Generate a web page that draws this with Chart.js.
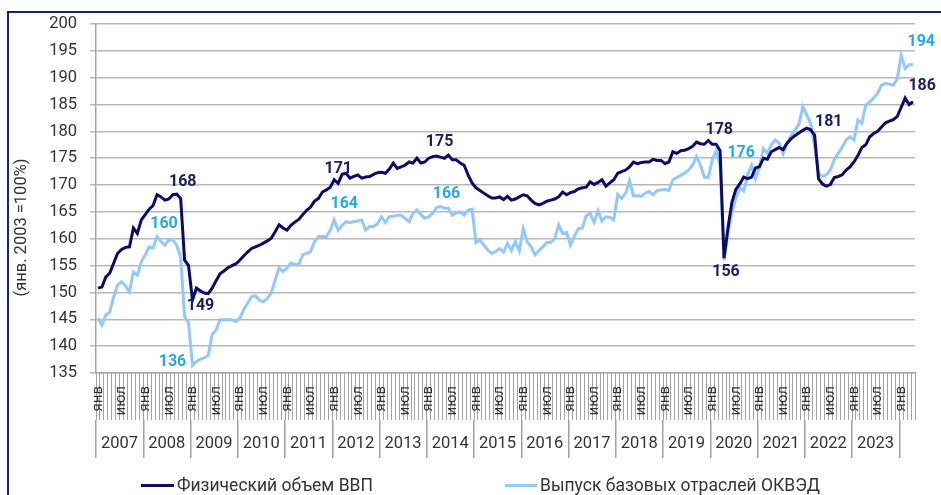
<!DOCTYPE html>
<html>
<head>
<meta charset="utf-8">
<script src="https://cdn.jsdelivr.net/npm/chart.js@4.4.1/dist/chart.umd.min.js"></script>
<style>
  html, body { margin: 0; padding: 0; background: #fff; }
  #wrap { position: relative; width: 941px; height: 495px; overflow: hidden; font-family: Roboto, sans-serif; }
  #frame { position: absolute; left: 7px; top: 11px; right: -10px; bottom: -10px;
           border-top: 2px solid #13296b; border-left: 2px solid #13296b; }
  #chart { position: absolute; left: 0; top: 0; }
  .legend-item { position: absolute; top: 475px; font-size: 17.5px; color: #333; white-space: nowrap; line-height: 21px; }
  .swatch { position: absolute; top: 9px; height: 3px; }
</style>
</head>
<body>
<div id="wrap">
  <div id="frame"></div>
  <canvas id="chart" width="941" height="495"></canvas>
  <div class="legend-item" id="leg0" style="left:141px; padding-left:36px;"><span class="swatch" style="left:0; width:33px; background:#0c0c66;"></span><span class="txt"></span></div>
  <div class="legend-item" id="leg1" style="left:505px; padding-left:35px;"><span class="swatch" style="left:0; width:32px; background:#93c8fa;"></span><span class="txt"></span></div>
</div>
<script>
// categories: months from Jan 2007 to Apr 2024
const firstYear = 2007;
const monthCount = 208;
const monthTickLabels = { 0: 'янв', 6: 'июл' };
const seriesNames = ['Физический объем ВВП', 'Выпуск базовых отраслей ОКВЭД'];
const yTitle = '(янв. 2003 =100%)';

const gdpVolume = [
  150.8, 151.0, 152.9, 153.6, 155.5, 157.3, 158.0, 158.4, 158.5, 162.0, 161.0, 163.5,
  164.5, 165.5, 166.2, 168.2, 167.8, 167.2, 167.4, 168.2, 168.3, 167.5, 156.0, 155.0,
  148.6, 150.8, 150.3, 149.9, 149.8, 150.8, 152.2, 153.5, 154.0, 154.6, 155.0, 155.3,
  156.0, 156.8, 157.5, 158.2, 158.5, 158.8, 159.2, 159.6, 160.1, 161.3, 162.6, 162.0,
  161.6, 162.5, 163.1, 163.6, 164.5, 165.3, 165.9, 167.0, 167.5, 168.7, 169.1, 169.6,
  171.0, 170.3, 172.0, 172.2, 171.3, 171.6, 171.9, 171.3, 171.5, 171.6, 172.0, 172.3,
  172.4, 172.2, 173.0, 174.1, 173.1, 173.4, 173.7, 174.3, 174.1, 175.0, 174.1, 174.3,
  175.0, 175.3, 175.4, 175.2, 175.0, 175.6, 174.7, 174.7, 174.1, 173.7, 171.9, 170.4,
  169.5, 169.0, 168.5, 168.0, 167.6, 167.6, 167.8, 167.3, 167.9, 167.2, 167.4, 167.8,
  168.2, 168.0, 167.2, 166.6, 166.3, 166.6, 167.0, 167.2, 167.4, 167.8, 168.7, 168.2,
  168.6, 168.8, 169.3, 169.5, 169.6, 170.6, 170.1, 170.5, 171.0, 169.8, 170.4, 171.0,
  172.2, 172.5, 172.8, 173.4, 174.3, 174.0, 174.2, 174.3, 174.3, 174.8, 174.6, 174.6,
  174.0, 174.3, 176.2, 175.9, 176.4, 176.5, 176.8, 177.2, 178.0, 177.7, 177.6, 178.3,
  177.6, 177.6, 176.4, 156.4, 162.0, 166.8, 169.2, 170.2, 171.5, 171.2, 171.5, 173.2,
  173.4, 175.0, 174.8, 176.2, 176.6, 177.0, 176.6, 177.8, 178.6, 179.2, 179.7, 180.2,
  180.6, 180.3, 179.3, 171.2, 170.2, 169.8, 170.1, 171.4, 171.6, 171.9, 172.8, 173.4,
  174.3, 175.5, 177.0, 177.5, 179.0, 179.6, 180.0, 180.8, 181.6, 181.9, 182.2, 182.8,
  184.5, 186.2, 185.0, 185.5
];

const baseIndustries = [
  145.2, 143.9, 145.8, 146.4, 149.2, 151.4, 152.0, 151.2, 150.1, 153.8, 153.2, 155.7,
  157.0, 158.5, 158.3, 160.4, 159.5, 158.8, 159.8, 159.8, 158.8, 156.5, 145.5, 144.3,
  136.4, 137.1, 137.6, 137.8, 138.3, 142.2, 143.0, 144.9, 144.9, 144.9, 144.9, 144.6,
  145.2, 146.8, 148.0, 149.2, 149.4, 148.5, 148.3, 148.9, 149.9, 152.3, 154.6, 153.9,
  154.5, 155.5, 155.2, 155.2, 157.0, 157.3, 157.6, 159.5, 160.4, 160.4, 160.4, 161.6,
  163.5, 161.6, 162.5, 163.2, 163.0, 163.2, 163.3, 163.5, 161.6, 162.3, 162.3, 162.8,
  164.1, 163.0, 164.1, 164.2, 164.4, 164.4, 163.8, 163.2, 164.7, 165.4, 164.5, 163.8,
  164.1, 164.7, 165.8, 166.0, 165.7, 165.7, 164.4, 164.8, 165.0, 164.4, 165.3, 165.5,
  159.3, 159.8, 158.8, 157.9, 157.3, 157.6, 158.2, 157.5, 159.1, 157.8, 159.5, 157.7,
  161.9, 159.5, 158.5, 157.0, 157.8, 158.5, 159.3, 159.3, 160.0, 162.6, 161.0, 161.2,
  158.8, 160.5, 161.9, 162.0, 164.3, 164.7, 163.1, 165.2, 163.3, 164.1, 164.0, 163.5,
  168.3, 167.5, 168.5, 170.8, 168.0, 168.0, 167.9, 168.5, 168.8, 168.2, 169.0, 169.1,
  169.2, 169.0, 171.0, 171.4, 171.8, 172.2, 172.8, 173.7, 175.3, 173.7, 171.5, 171.4,
  174.7, 176.4, 173.5, 156.0, 161.0, 165.0, 167.5, 169.5, 168.9, 172.0, 173.7, 171.2,
  173.4, 176.8, 175.9, 177.5, 178.4, 177.8, 175.8, 177.8, 179.2, 180.2, 181.3, 184.6,
  183.1, 181.5, 177.2, 172.2, 171.6, 171.9, 172.8, 174.7, 175.9, 177.1, 178.4, 179.0,
  178.4, 182.1, 181.5, 184.9, 185.5, 186.2, 187.1, 188.6, 188.9, 188.8, 188.6, 189.8,
  194.2, 191.7, 192.4, 192.4
];

// which points carry a value label (series index, month index)
const labelledPoints = [
  { series: 0, index: 19 }, { series: 1, index: 15 }, { series: 0, index: 24 }, { series: 1, index: 24 },
  { series: 0, index: 60 }, { series: 1, index: 60 }, { series: 0, index: 86 }, { series: 1, index: 87 },
  { series: 0, index: 155 }, { series: 1, index: 157 }, { series: 0, index: 159 }, { series: 0, index: 180 },
  { series: 1, index: 204 }, { series: 0, index: 205 }
];
// label offsets from the point, same order as labelledPoints
const labelOffsets = [
  [10, -13], [7, -13], [8, 6], [-20, -3],
  [4, -11], [10, -16], [3, -14], [6, -13],
  [11, -11], [25, 2], [2, 14], [22, -6],
  [20, -13], [17, -12]
];

const lineColors = ['#0c0c66', '#93c8fa'];
const labelColors = ['#1b1f5e', '#2aa8e0'];

const labels = [];
for (let i = 0; i < monthCount; i++) {
  const y = firstYear + Math.floor(i / 12);
  labels.push(String(y) + '-' + String(i % 12 + 1).padStart(2, '0'));
}

document.querySelector('#leg0 .txt').textContent = seriesNames[0];
document.querySelector('#leg1 .txt').textContent = seriesNames[1];

const valueLabelPlugin = {
  id: 'valueLabels',
  afterDatasetsDraw(chart) {
    const { ctx } = chart;
    ctx.save();
    ctx.font = 'bold 16px Roboto, sans-serif';
    ctx.textAlign = 'center';
    ctx.textBaseline = 'middle';
    labelledPoints.forEach((p, k) => {
      const pt = chart.getDatasetMeta(p.series).data[p.index];
      const value = chart.data.datasets[p.series].data[p.index];
      ctx.fillStyle = labelColors[p.series];
      ctx.fillText(String(Math.round(value)), pt.x + labelOffsets[k][0], pt.y + labelOffsets[k][1]);
    });
    ctx.restore();
  }
};

// y-axis caption, placed a bit lower than the axis centre like the original
const yTitlePlugin = {
  id: 'yTitle',
  afterDraw(chart) {
    const { ctx, chartArea } = chart;
    ctx.save();
    ctx.translate(22, (chartArea.top + chartArea.bottom) / 2 + 29);
    ctx.rotate(-Math.PI / 2);
    ctx.font = '16.5px Roboto, sans-serif';
    ctx.fillStyle = '#333';
    ctx.textAlign = 'center';
    ctx.textBaseline = 'middle';
    ctx.fillText(yTitle, 0, 0);
    ctx.restore();
  }
};

Chart.defaults.font.family = 'Roboto, sans-serif';
Chart.defaults.color = '#333';

new Chart(document.getElementById('chart'), {
  type: 'line',
  data: {
    labels,
    datasets: [
      { label: seriesNames[0], data: gdpVolume, borderColor: lineColors[0], borderWidth: 3, pointRadius: 0, tension: 0 },
      { label: seriesNames[1], data: baseIndustries, borderColor: lineColors[1], borderWidth: 3, pointRadius: 0, tension: 0 }
    ]
  },
  options: {
    responsive: false,
    animation: false,
    layout: { padding: { left: 8, top: 24, right: 26, bottom: 37 } },
    plugins: {
      legend: { display: false },
      tooltip: { enabled: false }
    },
    scales: {
      x: {
        type: 'category',
        offset: true,
        grid: { offset: true, drawOnChartArea: false, tickLength: 47, color: '#a2a2a2', lineWidth: 1 },
        border: { display: true, color: '#a6a6a6', width: 1.5 },
        ticks: {
          autoSkip: false, minRotation: 90, maxRotation: 90, padding: -34,
          font: { size: 15 }, color: '#333',
          callback: (v, i) => monthTickLabels[i % 12] || ''
        },
        afterFit: (s) => { s.height = 47; }
      },
      x2: {
        type: 'category',
        position: 'bottom',
        offset: true,
        grid: {
          offset: true, drawOnChartArea: false, tickLength: 38, lineWidth: 1.5,
          color: (c) => (c.index % 12 === 0 ? '#a0a0a0' : 'rgba(0,0,0,0)')
        },
        border: { display: false },
        ticks: {
          autoSkip: false, minRotation: 0, maxRotation: 0, padding: -24, labelOffset: -2,
          font: { size: 16.5 }, color: '#333',
          callback: (v, i) => (i % 12 === 6 ? String(firstYear + Math.floor(i / 12)) : '')
        },
        afterFit: (s) => { s.height = 38; }
      },
      y: {
        min: 135,
        max: 200,
        ticks: { stepSize: 5, padding: 13, font: { size: 16.5 }, color: '#333' },
        grid: { color: '#b8b8b8', lineWidth: 1.5, tickLength: 6 },
        border: { color: '#a6a6a6', width: 1.5 },
        afterFit: (s) => { s.width = 88; }
      }
    }
  },
  plugins: [valueLabelPlugin, yTitlePlugin]
});
</script>
</body>
</html>
